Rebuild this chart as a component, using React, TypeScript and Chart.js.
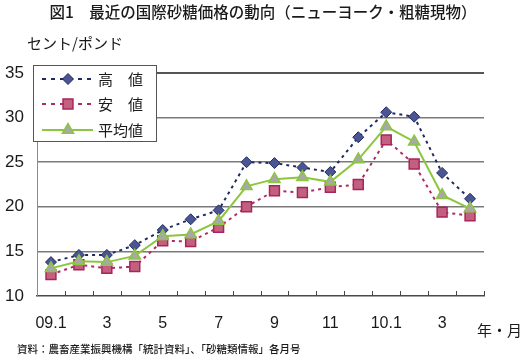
import React, { useEffect, useRef } from "react";
import { Chart, registerables } from "chart.js";
import { drawPoint } from "chart.js/helpers";

Chart.register(...registerables);

const months = ["09.1", "2", "3", "4", "5", "6", "7", "8", "9", "10", "11", "12", "10.1", "2", "3", "4"];
const highValues = [13.8, 14.6, 14.6, 15.7, 17.4, 18.6, 19.6, 25.0, 24.9, 24.4, 23.9, 27.8, 30.6, 30.1, 23.8, 20.9];
const lowValues = [12.4, 13.5, 13.1, 13.3, 16.2, 16.1, 17.7, 20.0, 21.8, 21.6, 22.2, 22.5, 27.5, 24.8, 19.4, 19.0];
const avgValues = [13.1, 13.9, 13.8, 14.5, 16.7, 16.9, 18.4, 22.3, 23.1, 23.3, 22.8, 25.3, 29.0, 27.3, 21.3, 19.8];
const seriesNames = ["高　値", "安　値", "平均値"];
const yTicks = [10, 15, 20, 25, 30, 35];

const titleText = "図1　最近の国際砂糖価格の動向（ニューヨーク・粗糖現物）";
const unitText = "セント/ポンド";
const xUnitText = "年・月";
const sourceText = "資料：農畜産業振興機構「統計資料」、「砂糖類情報」各月号";

const CJK = "'Noto Sans CJK JP', 'Noto Sans', sans-serif";
const LATIN = "'Liberation Sans', Arial, sans-serif";

const styles = [
  { line: "#1f2a62", fill: "#4b5593", border: "#1f2a62", dash: [3, 4], shape: "rectRot", r: 5.5, bw: 1 },
  { line: "#b02a66", fill: "#c3607f", border: "#a8245c", dash: [3, 4], shape: "rect", r: 7, bw: 1.5 },
  { line: "#8cc63f", fill: "#a8a8a8", border: "#8cc63f", dash: [], shape: "triangle", r: 6.5, bw: 1.5 },
];

const decorPlugin = {
  id: "decor",
  beforeDatasetsDraw(chart: any) {
    const ctx = chart.ctx;
    const x = chart.scales.x;
    const bottom = chart.chartArea.bottom;
    ctx.save();
    ctx.strokeStyle = "#444";
    ctx.lineWidth = 1;
    for (let i = 0; i < months.length; i++) {
      const px = Math.round(x.getPixelForValue(i + 0.5)) + 0.5;
      ctx.beginPath();
      ctx.moveTo(px, bottom);
      ctx.lineTo(px, bottom - 5);
      ctx.stroke();
    }
    ctx.restore();
  },
  afterDraw(chart: any) {
    const ctx = chart.ctx;
    ctx.save();
    ctx.fillStyle = "#1a1a1a";
    ctx.textBaseline = "middle";
    // title
    ctx.font = `500 15.5px ${CJK}`;
    ctx.textAlign = "center";
    ctx.fillText(titleText, 263, 12);
    // unit
    ctx.textAlign = "left";
    ctx.font = `15px ${CJK}`;
    ctx.fillText(unitText, 27, 43);
    ctx.fillText(xUnitText, 477, 330);
    // source
    ctx.font = `500 10.5px ${CJK}`;
    ctx.fillText(sourceText, 17, 349);

    // legend box
    const bx = 33.5, by = 65.5, bw = 123, bh = 76;
    ctx.fillStyle = "#ffffff";
    ctx.fillRect(bx, by, bw, bh);
    ctx.strokeStyle = "#555";
    ctx.lineWidth = 1;
    ctx.strokeRect(bx, by, bw, bh);
    const rows = [79, 104, 130];
    styles.forEach((s, i) => {
      const y = rows[i];
      ctx.save();
      ctx.strokeStyle = s.line;
      ctx.lineWidth = 2;
      ctx.setLineDash(s.dash.length ? [4, 5] : []);
      ctx.beginPath();
      ctx.moveTo(42, y);
      ctx.lineTo(93, y);
      ctx.stroke();
      ctx.restore();
      ctx.save();
      ctx.fillStyle = s.fill;
      ctx.strokeStyle = s.border;
      ctx.lineWidth = s.bw;
      drawPoint(ctx, { pointStyle: s.shape, radius: s.r, rotation: 0, borderWidth: s.bw }, 68, y);
      ctx.restore();
      ctx.fillStyle = "#1a1a1a";
      ctx.font = `15px ${CJK}`;
      ctx.textAlign = "left";
      ctx.textBaseline = "middle";
      ctx.fillText(seriesNames[i], 98, y);
    });
    ctx.restore();
  },
};

export default function App() {
  const ref = useRef<HTMLCanvasElement | null>(null);
  useEffect(() => {
    if (!ref.current) return;
    const values = [highValues, lowValues, avgValues];
    const chart = new Chart(ref.current, {
      type: "line",
      data: {
        labels: months,
        datasets: values.map((v, i) => ({
          label: seriesNames[i],
          data: v,
          borderColor: styles[i].line,
          borderWidth: 2,
          borderDash: styles[i].dash,
          pointStyle: styles[i].shape,
          pointRadius: styles[i].r,
          pointBackgroundColor: styles[i].fill,
          pointBorderColor: styles[i].border,
          pointBorderWidth: styles[i].bw,
          tension: 0,
          fill: false,
          order: 2 - i,
        })),
      },
      options: {
        responsive: false,
        animation: false,
        devicePixelRatio: 1,
        layout: { padding: { top: 73, right: 37, left: 0, bottom: 0 } },
        plugins: { legend: { display: false }, tooltip: { enabled: false }, title: { display: false } },
        scales: {
          x: {
            offset: true,
            grid: { display: false, drawTicks: false },
            border: { display: true, color: "#4a4a4a", width: 1.5 },
            ticks: {
              autoSkip: false,
              maxRotation: 0,
              padding: 18,
              color: "#1a1a1a",
              font: { family: "'Liberation Sans Narrow', 'Liberation Sans', Arial", size: 16 },
              callback: (_v: any, i: number) => (i % 2 === 0 ? months[i] : ""),
            },
            afterFit: (s: any) => { s.height = 68; },
          },
          y: {
            min: 10,
            max: 35,
            afterBuildTicks: (s: any) => { s.ticks = yTicks.map((v) => ({ value: v })); },
            grid: {
              drawTicks: false,
              color: (c: any) => (c.tick && c.tick.value === 10 ? "rgba(0,0,0,0)" : c.tick && c.tick.value === 35 ? "#555" : "#7a7a7a"),
              lineWidth: (c: any) => (c.tick && c.tick.value === 35 ? 2 : 1.5),
            },
            border: { display: true, color: "#8a8a8a", width: 1 },
            ticks: {
              padding: 13,
              color: "#1a1a1a",
              font: { family: LATIN, size: 17 },
            },
            afterFit: (s: any) => { s.width = 37; },
          },
        },
      },
      plugins: [decorPlugin],
    });
    return () => chart.destroy();
  }, []);
  return (
    <div style={{ position: "absolute", left: 0, top: 0, width: 521, height: 364, background: "#fff" }}>
      <canvas ref={ref} width={521} height={364} style={{ width: 521, height: 364, display: "block" }} />
    </div>
  );
}
